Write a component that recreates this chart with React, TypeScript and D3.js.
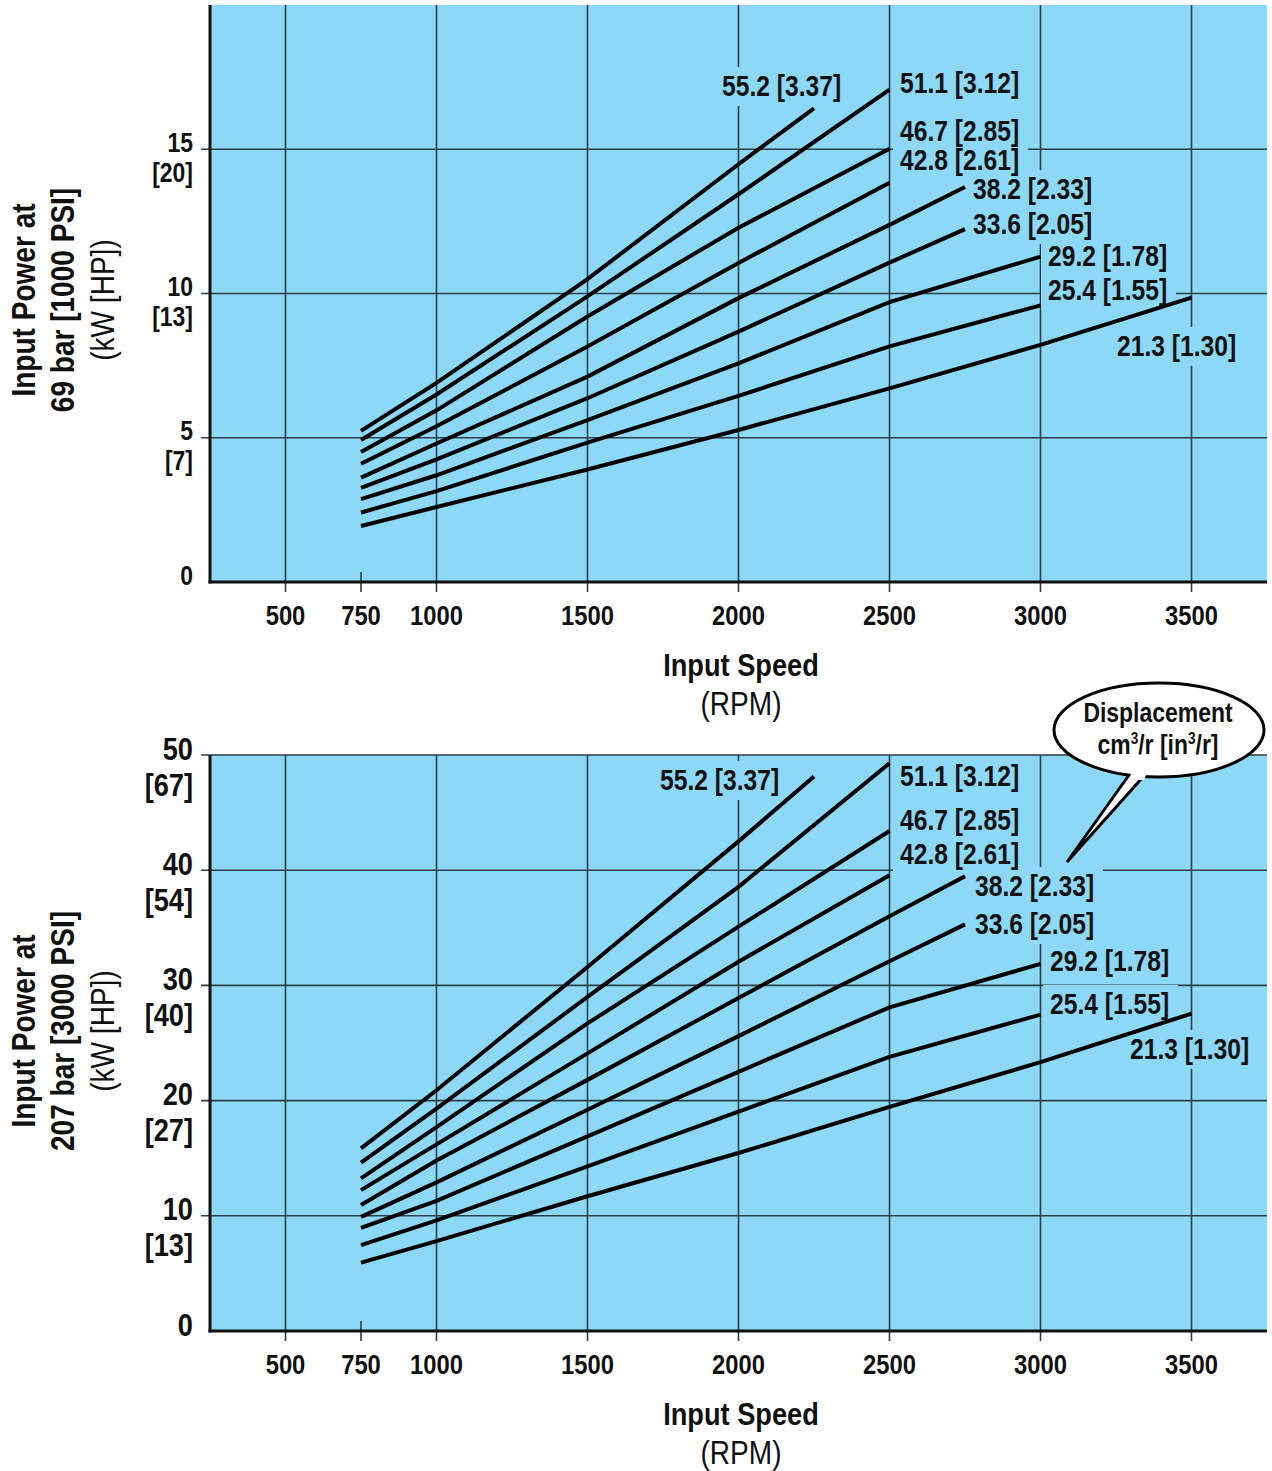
import React from "react";
import * as d3 from "d3";

// ---------- data ----------
const displacementLabels = [
  "55.2 [3.37]",
  "51.1 [3.12]",
  "46.7 [2.85]",
  "42.8 [2.61]",
  "38.2 [2.33]",
  "33.6 [2.05]",
  "29.2 [1.78]",
  "25.4 [1.55]",
  "21.3 [1.30]",
];

// speed points (rpm) for each displacement curve
const speeds552 = [750, 1000, 1500, 2000, 2250];
const speeds511 = [750, 1000, 1500, 2000, 2500];
const speeds467 = [750, 1000, 1500, 2000, 2500];
const speeds428 = [750, 1000, 1500, 2000, 2500];
const speeds382 = [750, 1000, 1500, 2000, 2500, 2750];
const speeds336 = [750, 1000, 1500, 2000, 2500, 2750];
const speeds292 = [750, 1000, 1500, 2000, 2500, 3000];
const speeds254 = [750, 1000, 1500, 2000, 2500, 3000];
const speeds213 = [750, 1000, 1500, 2000, 2500, 3000, 3500];

// power (kW) at 69 bar [1000 PSI]
const low552 = [5.24, 6.9, 10.5, 14.48, 16.42];
const low511 = [4.92, 6.5, 9.9, 13.44, 17.07];
const low467 = [4.51, 5.95, 9.2, 12.28, 15.02];
const low428 = [4.1, 5.4, 8.16, 11.06, 13.84];
const low382 = [3.62, 4.8, 7.12, 9.84, 12.38, 13.69];
const low336 = [3.26, 4.25, 6.37, 8.68, 11.07, 12.23];
const low292 = [2.87, 3.7, 5.61, 7.58, 9.7, 11.28];
const low254 = [2.41, 3.15, 4.83, 6.45, 8.17, 9.59];
const low213 = [1.94, 2.6, 3.9, 5.27, 6.71, 8.22, 9.86];

// power (kW) at 207 bar [3000 PSI]
const high552 = [15.86, 20.9, 31.6, 42.5, 48.13];
const high511 = [14.61, 19.3, 29.0, 38.55, 49.28];
const high467 = [13.25, 17.7, 26.7, 35.1, 43.4];
const high428 = [12.23, 16.2, 24.1, 32.05, 39.57];
const high382 = [10.93, 14.8, 21.8, 28.9, 36.0, 39.48];
const high336 = [9.91, 12.9, 19.2, 25.6, 32.1, 35.3];
const high292 = [8.96, 11.3, 16.9, 22.5, 28.1, 31.87];
const high254 = [7.45, 9.6, 14.3, 19.05, 23.8, 27.46];
const high213 = [5.94, 7.8, 11.7, 15.45, 19.45, 23.34, 27.55];

const speedSets = [speeds552, speeds511, speeds467, speeds428, speeds382, speeds336, speeds292, speeds254, speeds213];
const lowSets = [low552, low511, low467, low428, low382, low336, low292, low254, low213];
const highSets = [high552, high511, high467, high428, high382, high336, high292, high254, high213];

const rpmGridTicks = [500, 1000, 1500, 2000, 2500, 3000, 3500];
const rpmExtraTick = 750;
const rpmTickLabels = [500, 750, 1000, 1500, 2000, 2500, 3000, 3500];

const lowKwTicks = [0, 5, 10, 15];
const lowHpLabels = ["", "[7]", "[13]", "[20]"];
const highKwTicks = [0, 10, 20, 30, 40, 50];
const highHpLabels = ["", "[13]", "[27]", "[40]", "[54]", "[67]"];

// ---------- layout ----------
const W = 1272;
const H = 1471;
const BLUE = "#8DD8F6";
const GRID = "#2c3e46";
const FONT = "'Liberation Sans', Arial, Helvetica, sans-serif";
const SQUEEZE = 0.85;

const plotLeft = 210;
const plotRight = 1267;

// label anchor positions (left x, centre y) in pixels
const lowLabelPos = [
  [722, 86], [900, 83], [900, 131], [900, 160], [973, 189], [973, 224], [1048, 256], [1048, 290], [1117, 346],
];
const highLabelPos = [
  [660, 780], [900, 776], [900, 820], [900, 854], [975, 886], [975, 924], [1050, 961], [1050, 1004], [1130, 1049],
];

type TProps = {
  x: number;
  y: number;
  size: number;
  bold?: boolean;
  anchor?: "start" | "middle" | "end";
  rotate?: boolean;
  children: React.ReactNode;
};

// condensed text: horizontally squeezed Liberation Sans
function T({ x, y, size, bold, anchor = "start", rotate, children }: TProps) {
  return (
    <text
      transform={`translate(${x},${y})${rotate ? " rotate(-90)" : ""} scale(${SQUEEZE},1)`}
      dy="0.36em"
      textAnchor={anchor}
      fontFamily={FONT}
      fontWeight={bold ? "bold" : "normal"}
      fontSize={size}
      fill="#111"
    >
      {children}
    </text>
  );
}

type PanelProps = {
  top: number;
  bottom: number;
  yMax: number;
  kwTicks: number[];
  hpLabels: string[];
  powerSets: number[][];
  labelPos: number[][];
  titleLine2: string;
  titleCenterY: number;
  tickFont: number;
  hpGap: number;
  showTopGrid: boolean;
};

function Panel(p: PanelProps) {
  const x = d3.scaleLinear().domain([250, 3750]).range([plotLeft, plotRight]);
  const y = d3.scaleLinear().domain([0, p.yMax]).range([p.bottom, p.top]);
  const line = d3
    .line<[number, number]>()
    .x((d) => x(d[0]))
    .y((d) => y(d[1]));

  const gridY = p.kwTicks.filter((t) => t > 0 && (p.showTopGrid || t < p.yMax));

  return (
    <g>
      <rect x={plotLeft} y={p.top} width={plotRight - plotLeft} height={p.bottom - p.top} fill={BLUE} />
      {gridY.map((t) => (
        <line key={"h" + t} x1={plotLeft - 9} x2={plotRight} y1={y(t)} y2={y(t)} stroke={GRID} strokeWidth={1.6} />
      ))}
      {rpmGridTicks.map((t) => (
        <line key={"v" + t} x1={x(t)} x2={x(t)} y1={p.top} y2={p.bottom + 10} stroke={GRID} strokeWidth={1.6} />
      ))}
      <line x1={x(rpmExtraTick)} x2={x(rpmExtraTick)} y1={p.bottom - 10} y2={p.bottom + 10} stroke={GRID} strokeWidth={1.6} />
      {p.labelPos.map((pos, i) => (
        <rect key={"bg" + i} x={pos[0] - 7} y={pos[1] - 19} width={135} height={39} fill={BLUE} />
      ))}
      <line x1={plotLeft} x2={plotLeft} y1={p.top} y2={p.bottom + 1.5} stroke="#111" strokeWidth={3} />
      <line x1={plotLeft - 1.5} x2={plotRight} y1={p.bottom} y2={p.bottom} stroke="#111" strokeWidth={3} />
      {speedSets.map((s, i) => (
        <path
          key={"c" + i}
          d={line(s.map((v, j) => [v, p.powerSets[i][j]] as [number, number])) || ""}
          fill="none"
          stroke="#000"
          strokeWidth={4}
        />
      ))}
      {p.labelPos.map((pos, i) => (
        <T key={"l" + i} x={pos[0]} y={pos[1]} size={29} bold>
          {displacementLabels[i]}
        </T>
      ))}
      {p.kwTicks.map((t, i) => (
        <g key={"yt" + t}>
          <T x={193} y={y(t) - 7} size={p.tickFont} bold anchor="end">
            {t}
          </T>
          {p.hpLabels[i] && (
            <T x={193} y={y(t) - 7 + p.hpGap} size={p.tickFont} bold anchor="end">
              {p.hpLabels[i]}
            </T>
          )}
        </g>
      ))}
      {rpmTickLabels.map((t) => (
        <T key={"xt" + t} x={x(t)} y={p.bottom + 33} size={28} bold anchor="middle">
          {t}
        </T>
      ))}
      <T x={741} y={p.bottom + 82} size={32} bold anchor="middle">
        Input Speed
      </T>
      <T x={741} y={p.bottom + 121} size={33} anchor="middle">
        (RPM)
      </T>
      <T x={23} y={p.titleCenterY} size={33} bold anchor="middle" rotate>
        Input Power at
      </T>
      <T x={62} y={p.titleCenterY} size={33} bold anchor="middle" rotate>
        {p.titleLine2}
      </T>
      <T x={102} y={p.titleCenterY} size={33} anchor="middle" rotate>
        (kW [HP])
      </T>
    </g>
  );
}

function Callout() {
  const cx = 1159;
  const cy = 730;
  return (
    <g>
      <polygon points="1134,768 1067,862 1151,768" fill="#fff" stroke="#000" strokeWidth={3} strokeLinejoin="miter" />
      <ellipse cx={cx} cy={cy} rx={105} ry={47} fill="#fff" stroke="#000" strokeWidth={3} />
      <polygon points="1134,768 1149,768 1144,780 1128,780" fill="#fff" />
      <T x={cx - 1} y={712} size={27} bold anchor="middle">
        Displacement
      </T>
      <T x={cx - 1} y={744} size={27} bold anchor="middle">
        cm<tspan dy="-10" fontSize={16}>3</tspan>
        <tspan dy="10">/r [in</tspan>
        <tspan dy="-10" fontSize={16}>3</tspan>
        <tspan dy="10">/r]</tspan>
      </T>
    </g>
  );
}

export default function App() {
  return (
    <svg width={W} height={H} viewBox={`0 0 ${W} ${H}`} style={{ display: "block", position: "absolute", left: 0, top: 0, background: "#fff" }}>
      <Panel
        top={5}
        bottom={582}
        yMax={20}
        kwTicks={lowKwTicks}
        hpLabels={lowHpLabels}
        powerSets={lowSets}
        labelPos={lowLabelPos}
        titleLine2="69 bar [1000 PSI]"
        titleCenterY={300}
        tickFont={27}
        hpGap={30}
        showTopGrid={false}
      />
      <Panel
        top={755}
        bottom={1331}
        yMax={50}
        kwTicks={highKwTicks}
        hpLabels={highHpLabels}
        powerSets={highSets}
        labelPos={highLabelPos}
        titleLine2="207 bar [3000 PSI]"
        titleCenterY={1031}
        tickFont={32}
        hpGap={36}
        showTopGrid={true}
      />
      <Callout />
    </svg>
  );
}
